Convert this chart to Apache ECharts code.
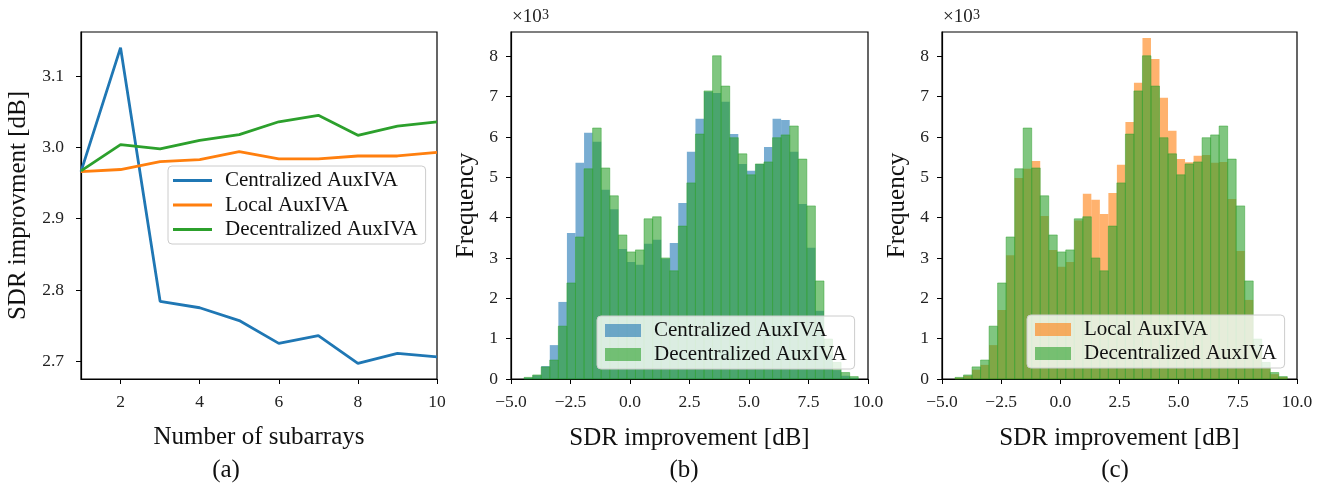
<!DOCTYPE html>
<html>
<head>
<meta charset="utf-8">
<script src="https://cdn.jsdelivr.net/npm/echarts@6/dist/echarts.min.js"></script>
<style>
    html, body { margin: 0; padding: 0; background: #fff; }
    #chart { width: 1328px; height: 486px; }
</style>
</head>
<body>
<div id="chart"></div>
<script>
// (a) mean SDR improvement vs number of subarrays
const subarrays = [1, 2, 3, 4, 5, 6, 7, 8, 9, 10];
const centralizedMean = [2.966, 3.140, 2.784, 2.775, 2.757, 2.725, 2.736, 2.697, 2.711, 2.706];
const localMean = [2.966, 2.969, 2.980, 2.983, 2.994, 2.984, 2.984, 2.988, 2.988, 2.993];
const decentralizedMean = [2.967, 3.004, 2.998, 3.010, 3.018, 3.036, 3.045, 3.017, 3.030, 3.036];

// (b), (c) histograms, counts in thousands, 39 bins
const binStart = -4.45;
const binWidth = 0.36;
const centralizedHist = [0.03, 0.09, 0.32, 0.84, 1.91, 3.62, 5.36, 6.10, 5.88, 4.69,
    4.21, 3.22, 2.90, 2.83, 3.35, 3.45, 2.98, 3.37, 4.36, 5.63,
    6.45, 7.12, 7.09, 6.87, 6.07, 5.33, 5.16, 5.33, 5.75, 6.45,
    6.42, 5.63, 4.34, 3.25, 1.69, 0.60, 0.22, 0.08, 0.03];
const decentralizedHist = [0.04, 0.10, 0.30, 0.47, 1.31, 2.38, 3.52, 5.21, 6.22, 5.23,
    4.54, 3.57, 3.15, 3.20, 3.97, 4.02, 3.00, 2.68, 3.79, 4.86,
    6.07, 7.14, 8.01, 7.26, 5.98, 5.58, 5.06, 5.33, 5.38, 5.98,
    6.05, 6.27, 5.45, 4.29, 2.43, 0.99, 0.41, 0.16, 0.06];
const localHist = [0.03, 0.08, 0.23, 0.35, 0.84, 1.71, 3.07, 4.98, 5.21, 5.40,
    4.04, 3.20, 2.78, 2.90, 3.93, 4.59, 4.44, 4.09, 4.61, 5.31,
    6.37, 7.34, 8.45, 7.93, 6.97, 6.15, 5.45, 5.37, 5.53, 5.55,
    5.36, 5.38, 4.46, 3.17, 1.96, 0.70, 0.28, 0.12, 0.05];

// tick labels
const ticksA_x = [2, 4, 6, 8, 10];
const ticksA_y = [2.7, 2.8, 2.9, 3.0, 3.1];
const ticksHist_y = [0, 1, 2, 3, 4, 5, 6, 7, 8];

const FONT = 'Liberation Serif';
const BLUE = '#1f77b4', ORANGE = '#ff7f0e', GREEN = '#2ca02c';

function toBins(counts) {
    return counts.map((c, i) => [binStart + i * binWidth, binStart + (i + 1) * binWidth, c]);
}

function histItem(color, edge) {
    return function (params, api) {
        const lo = api.coord([api.value(0), 0]);
        const hi = api.coord([api.value(1), api.value(2)]);
        return {
            type: 'rect',
            shape: { x: lo[0], y: hi[1], width: hi[0] - lo[0], height: lo[1] - hi[1] },
            style: { fill: color, opacity: 0.6, stroke: edge ? GREEN : null, lineWidth: edge ? 0.8 : 0 }
        };
    };
}

function minus(v) {
    return (v < 0 ? '\u2212' : '') + Math.abs(v).toFixed(1);
}

const tickLabel = { color: '#222', fontFamily: FONT, fontSize: 17.5 };
const nameStyle = { color: '#111', fontFamily: FONT, fontSize: 25 };
const axisLine = { show: true, onZero: false, lineStyle: { color: '#000', width: 1.2 } };
const axisTick = { show: true, length: 5, lineStyle: { color: '#000', width: 1 } };

function histX(idx) {
    return {
        type: 'value', gridIndex: idx, min: -5, max: 10, interval: 2.5,
        axisLine, axisTick, splitLine: { show: false },
        axisLabel: Object.assign({ margin: 14, formatter: minus }, tickLabel),
        name: 'SDR improvement [dB]', nameLocation: 'middle', nameGap: 47, nameTextStyle: nameStyle
    };
}

function histY(idx) {
    return {
        type: 'value', gridIndex: idx, min: 0, max: 8.6,
        axisLine, axisTick: Object.assign({ customValues: ticksHist_y }, axisTick), splitLine: { show: false },
        axisLabel: Object.assign({ margin: 13, customValues: ticksHist_y }, tickLabel),
        name: 'Frequency', nameLocation: 'middle', nameGap: 32, nameTextStyle: nameStyle
    };
}

function legendBox(left, top, names, colors, isLine) {
    return {
        left, top, orient: 'vertical',
        icon: 'rect',
        itemWidth: isLine ? 39 : 36, itemHeight: isLine ? 3 : 13,
        itemGap: isLine ? 3.5 : 3,
        padding: isLine ? [4, 8, 4, 5] : [4, 8, 4, 8],
        backgroundColor: 'rgba(255,255,255,0.8)',
        borderColor: '#cccccc', borderWidth: 1, borderRadius: 4,
        textStyle: { color: '#111', fontFamily: FONT, fontSize: 21, lineHeight: 21, padding: [0, 0, 0, 8] },
        data: names.map((n, i) => ({ name: n, itemStyle: { color: colors[i], opacity: 1 } }))
    };
}

const chart = echarts.init(document.getElementById('chart'), null, { renderer: 'canvas' });

chart.setOption({
    animation: false,
    backgroundColor: '#fff',
    grid: [
        { left: 81, top: 32, width: 356, height: 347, show: true, borderColor: '#000', borderWidth: 1.2 },
        { left: 511, top: 32, width: 357, height: 347, show: true, borderColor: '#000', borderWidth: 1.2 },
        { left: 942, top: 32, width: 355, height: 347, show: true, borderColor: '#000', borderWidth: 1.2 }
    ],
    xAxis: [
        {
            type: 'value', gridIndex: 0, min: 1, max: 10,
            axisLine, axisTick: Object.assign({ customValues: ticksA_x }, axisTick), splitLine: { show: false },
            axisLabel: Object.assign({ margin: 14, customValues: ticksA_x }, tickLabel),
            name: 'Number of subarrays', nameLocation: 'middle', nameGap: 46, nameTextStyle: nameStyle
        },
        histX(1),
        histX(2)
    ],
    yAxis: [
        {
            type: 'value', gridIndex: 0, min: 2.675, max: 3.162,
            axisLine, axisTick: Object.assign({ customValues: ticksA_y }, axisTick), splitLine: { show: false },
            axisLabel: Object.assign({ margin: 17, customValues: ticksA_y, formatter: v => v.toFixed(1) }, tickLabel),
            name: 'SDR improvment [dB]', nameLocation: 'middle', nameGap: 50, nameTextStyle: nameStyle
        },
        histY(1),
        histY(2)
    ],
    legend: [
        legendBox(168, 166, ['Centralized AuxIVA', 'Local AuxIVA', 'Decentralized AuxIVA'], [BLUE, ORANGE, GREEN], true),
        legendBox(597, 316, ['Centralized AuxIVA', 'Decentralized AuxIVA'], ['rgba(31,119,180,0.6)', 'rgba(44,160,44,0.6)'], false),
        legendBox(1027, 315, ['Local AuxIVA', 'Decentralized AuxIVA'], ['rgba(255,127,14,0.6)', 'rgba(44,160,44,0.6)'], false)
    ],
    series: [
        { name: 'Centralized AuxIVA', type: 'line', xAxisIndex: 0, yAxisIndex: 0, symbol: 'none',
          lineStyle: { color: BLUE, width: 2.8 }, itemStyle: { color: BLUE },
          data: subarrays.map((n, i) => [n, centralizedMean[i]]) },
        { name: 'Local AuxIVA', type: 'line', xAxisIndex: 0, yAxisIndex: 0, symbol: 'none',
          lineStyle: { color: ORANGE, width: 2.8 }, itemStyle: { color: ORANGE },
          data: subarrays.map((n, i) => [n, localMean[i]]) },
        { name: 'Decentralized AuxIVA', type: 'line', xAxisIndex: 0, yAxisIndex: 0, symbol: 'none',
          lineStyle: { color: GREEN, width: 2.8 }, itemStyle: { color: GREEN },
          data: subarrays.map((n, i) => [n, decentralizedMean[i]]) },

        { name: 'Centralized AuxIVA', type: 'custom', xAxisIndex: 1, yAxisIndex: 1,
          itemStyle: { color: BLUE }, encode: { x: [0, 1], y: 2 },
          renderItem: histItem(BLUE, false), data: toBins(centralizedHist) },
        { name: 'Decentralized AuxIVA', type: 'custom', xAxisIndex: 1, yAxisIndex: 1,
          itemStyle: { color: GREEN }, encode: { x: [0, 1], y: 2 },
          renderItem: histItem(GREEN, true), data: toBins(decentralizedHist) },

        { name: 'Local AuxIVA', type: 'custom', xAxisIndex: 2, yAxisIndex: 2,
          itemStyle: { color: ORANGE }, encode: { x: [0, 1], y: 2 },
          renderItem: histItem(ORANGE, false), data: toBins(localHist) },
        { name: 'Decentralized AuxIVA', type: 'custom', xAxisIndex: 2, yAxisIndex: 2,
          itemStyle: { color: GREEN }, encode: { x: [0, 1], y: 2 },
          renderItem: histItem(GREEN, true), data: toBins(decentralizedHist) }
    ],
    graphic: [
        { type: 'text', x: 512, y: 27, style: { text: '\u00d710', fill: '#222', font: '19px "Liberation Serif"', verticalAlign: 'bottom' } },
        { type: 'text', x: 542, y: 22, style: { text: '3', fill: '#222', font: '14px "Liberation Serif"', verticalAlign: 'bottom' } },
        { type: 'text', x: 943, y: 27, style: { text: '\u00d710', fill: '#222', font: '19px "Liberation Serif"', verticalAlign: 'bottom' } },
        { type: 'text', x: 973, y: 22, style: { text: '3', fill: '#222', font: '14px "Liberation Serif"', verticalAlign: 'bottom' } },
        { type: 'text', x: 226, y: 470, style: { text: '(a)', fill: '#111', font: '25px "Liberation Serif"', align: 'center', verticalAlign: 'middle' } },
        { type: 'text', x: 684, y: 470, style: { text: '(b)', fill: '#111', font: '25px "Liberation Serif"', align: 'center', verticalAlign: 'middle' } },
        { type: 'text', x: 1115, y: 470, style: { text: '(c)', fill: '#111', font: '25px "Liberation Serif"', align: 'center', verticalAlign: 'middle' } }
    ]
});
</script>
</body>
</html>
